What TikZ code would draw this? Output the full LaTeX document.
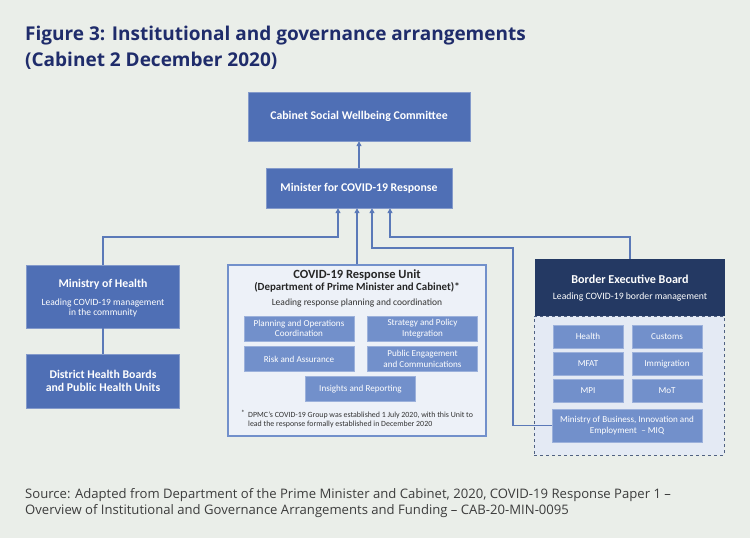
\documentclass[tikz,border=0pt]{standalone}
\usepackage{fontspec}
\setmainfont{Carlito}
\newfontfamily\opensans{Open Sans}
\usetikzlibrary{arrows.meta}
\definecolor{bgc}{HTML}{EAEEE9}
\definecolor{midblue}{HTML}{4F6FB5}
\definecolor{lightblue}{HTML}{7290CB}
\definecolor{navy}{HTML}{243963}
\definecolor{paleblue}{HTML}{EDF1F8}
\definecolor{dashblue}{HTML}{E4EAF4}
\definecolor{linec}{HTML}{5B79B8}
\definecolor{titlec}{HTML}{1F2C6B}
\definecolor{srcc}{HTML}{3C3C3C}
\begin{document}
\begin{tikzpicture}[x=1pt,y=-1pt,
    bluebox/.style={fill=midblue,draw=midblue!70!white,text=white,font=\bfseries\fontsize{11.8}{13}\selectfont,align=center,inner sep=0pt},
    subbox/.style={fill=lightblue,draw=lightblue!70!white,text=white,font=\fontsize{9.1}{10.5}\selectfont,align=center,inner sep=0pt},
    conn/.style={draw=linec,line width=1.4pt},
    tip/.style={-{Triangle[length=5pt,width=5pt]}}]
    \fill[bgc] (0,0) rectangle (750,538);
    \useasboundingbox (0,0) rectangle (750,538);
    % title and source
    \node(title1)[font=\opensans\bfseries\fontsize{19}{22}\selectfont,text=titlec,anchor=base west,inner sep=0pt] at (25,40){Figure 3: Institutional and governance arrangements};
    \node(title2)[font=\opensans\bfseries\fontsize{19}{22}\selectfont,text=titlec,anchor=base west,inner sep=0pt] at (25,66){(Cabinet 2 December 2020)};
    \node(src1)[font=\opensans\fontsize{13.1}{15}\selectfont,text=srcc,anchor=base west,inner sep=0pt] at (25,498){Source: Adapted from Department of the Prime Minister and Cabinet, 2020, COVID-19 Response Paper 1 –};
    \node(src2)[font=\opensans\fontsize{13.1}{15}\selectfont,text=srcc,anchor=base west,inner sep=0pt] at (25,514){Overview of Institutional and Governance Arrangements and Funding – CAB-20-MIN-0095};
    % top
    \node(csw)[bluebox,minimum width=222pt,minimum height=49pt] at (359,116.5){Cabinet Social Wellbeing Committee};
    \node(min)[bluebox,minimum width=186pt,minimum height=40pt] at (359,188){Minister for COVID-19 Response};
    % left
    \node(moh)[bluebox,minimum width=153pt,minimum height=63pt] at (103,296.5){};
    \node(mohname)[text=white,font=\bfseries\fontsize{11.8}{13}\selectfont] at (103,284){Ministry of Health};
    \node(mohlead)[text=white,font=\fontsize{9.5}{10.5}\selectfont,align=center,inner sep=0pt] at (103,308){Leading COVID-19 management\\in the community};
    \node(dhb)[bluebox,minimum width=153pt,minimum height=54pt] at (103,381){District Health Boards\\and Public Health Units};
    % response unit
    \node(cru)[draw=lightblue,fill=paleblue,line width=1.2pt,minimum width=258pt,minimum height=171pt,inner sep=0pt] at (357,350.5){};
    \node(cruname)[font=\bfseries\fontsize{12.5}{14}\selectfont,text=black!85] at (357,275){COVID-19 Response Unit};
    \node(crudept)[font=\bfseries\fontsize{10.9}{12}\selectfont,text=black!85] at (357,287){(Department of Prime Minister and Cabinet)*};
    \node(crulead)[font=\fontsize{9.5}{11}\selectfont,text=black!80] at (357,303){Leading response planning and coordination};
    \node(plan)[subbox,minimum width=110pt,minimum height=25pt] at (299,328.5){Planning and Operations\\Coordination};
    \node(strat)[subbox,minimum width=110pt,minimum height=25pt] at (422.5,328.5){Strategy and Policy\\Integration};
    \node(risk)[subbox,minimum width=110pt,minimum height=25pt] at (299,359){Risk and Assurance};
    \node(pub)[subbox,minimum width=110pt,minimum height=25pt] at (422.5,359){Public Engagement\\and Communications};
    \node(ins)[subbox,minimum width=110pt,minimum height=25pt] at (360.5,389){Insights and Reporting};
    \node(fnstar)[font=\fontsize{7.5}{8}\selectfont,text=black!80,anchor=east,inner sep=1pt] at (246,413){*};
    \node(fntext)[font=\fontsize{7.9}{9}\selectfont,text=black!80,align=left,anchor=west,inner sep=0pt] at (248,419.5){DPMC's COVID-19 Group was established 1 July 2020, with this Unit to\\lead the response formally established in December 2020};
    % border board
    \node(bgrp)[draw=navy!80,dashed,fill=dashblue,line width=1pt,minimum width=190pt,minimum height=139pt] at (629,385.5){};
    \node(beb)[fill=navy,minimum width=190pt,minimum height=57pt,inner sep=0pt] at (630,287.5){};
    \node(bebname)[text=white,font=\bfseries\fontsize{12.1}{13}\selectfont] at (630,279){Border Executive Board};
    \node(beblead)[text=white,font=\fontsize{9.7}{11}\selectfont] at (630,297){Leading COVID-19 border management};
    \node(health)[subbox,minimum width=70pt,minimum height=23pt] at (588,336.5){Health};
    \node(customs)[subbox,minimum width=70pt,minimum height=23pt] at (667,336.5){Customs};
    \node(mfat)[subbox,minimum width=70pt,minimum height=23pt] at (588,363.5){MFAT};
    \node(immig)[subbox,minimum width=70pt,minimum height=23pt] at (667,364){Immigration};
    \node(mpi)[subbox,minimum width=70pt,minimum height=23pt] at (588,390.5){MPI};
    \node(mot)[subbox,minimum width=70pt,minimum height=23pt] at (667,391){MoT};
    \node(miq)[subbox,minimum width=150pt,minimum height=33pt] at (627,425.5){Ministry of Business, Innovation and\\Employment\enspace– MIQ};
    % connectors
    \coordinate(j1) at (338,237);
    \coordinate(j3) at (513,248);
    \coordinate(j4) at (390,237);
    \draw[conn,tip] (min) -- (csw);
    \draw[conn,tip] (moh.north) |- (j1) -- (j1 |- min.south);
    \draw[conn,tip] (cru.north) -- (cru.north |- min.south);
    \draw[conn,tip] (miq.west) -| (j3) -| ([xshift=13pt]min.south);
    \draw[conn,tip] (beb.north) |- (j4) -- (j4 |- min.south);
    \draw[conn] (moh) -- (dhb);
\end{tikzpicture}
\end{document}
